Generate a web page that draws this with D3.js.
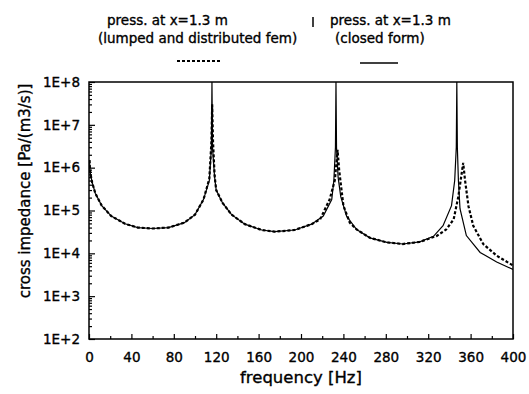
<!DOCTYPE html>
<html><head><meta charset="utf-8">
<script src="https://cdn.jsdelivr.net/npm/d3@7"></script>
<style>body{margin:0;background:#fff}svg{display:block}text{font-family:"DejaVu Sans",sans-serif;fill:#000;stroke:#000;stroke-width:0.35px}</style>
</head><body><svg id="c" width="529" height="394"></svg>
<script>
// closed form (solid)
const freqClosed = [0.5,1,3,6,12,21,34,46,60,75,90,100,108,113.5,115.5,116,116.5,118.5,120,126,134.5,147,163,175,194,210,221,229,231,232.5,233,233.5,235,237.5,243,252.5,265,281,296,312,325,334,342,345,346.5,347,347.5,348.5,350,356,369,384.6,400];
const zClosed = [1.5e6,8e5,4.5e5,2.5e5,1.3e5,7.4e4,4.9e4,4.0e4,3.8e4,4.0e4,5.2e4,8e4,1.8e5,5e5,3e6,1e8,3e6,6e5,3e5,1.5e5,8e4,4.8e4,3.5e4,3.2e4,3.5e4,4.8e4,7.4e4,1.8e5,5e5,3e6,1e8,3e6,6e5,2.1e5,7.4e4,3.6e4,2.3e4,1.8e4,1.65e4,1.85e4,2.5e4,4.4e4,1.3e5,5e5,3e6,1e8,3e6,5e5,1.1e5,2.6e4,1.05e4,6.3e3,4.2e3];
// lumped and distributed fem (dashed)
const freqFem = [0.5,1,3,6,12,21,34,46,60,75,90,100,108,113.5,115.5,116.2,117,118.5,120,126,134.5,147,163,175,194,210,218,227,232,234.5,236,240,246,252.5,265,281,296,312,328,337,344,348.4,351.6,353,354.7,358,362.5,372,384.6,400];
const zFem = [1.5e6,8e5,4.5e5,2.5e5,1.3e5,7.4e4,4.9e4,4.0e4,3.8e4,4.0e4,5.2e4,8e4,1.8e5,5.5e5,4e6,3e7,4e6,6.5e5,3e5,1.5e5,8e4,4.8e4,3.5e4,3.2e4,3.5e4,4.8e4,6.2e4,1.8e5,5.2e5,2.6e6,8.8e5,1.3e5,5.2e4,3.6e4,2.3e4,1.8e4,1.65e4,1.85e4,2.55e4,3.6e4,6.2e4,2.1e5,7.4e5,1.3e6,5.2e5,1.26e5,4.4e4,1.64e4,8.8e3,5.2e3];
const xTicks = [0,40,80,120,160,200,240,280,320,360,400];
const yTicks = [1e2,1e3,1e4,1e5,1e6,1e7,1e8];
const yTickLabels = ["1E+2","1E+3","1E+4","1E+5","1E+6","1E+7","1E+8"];
const legendFem = ["press. at x=1.3 m","(lumped and distributed fem)"];
const legendClosed = ["press. at x=1.3 m","(closed form)"];
const xTitle = "frequency [Hz]";
const yTitle = "cross impedance [Pa/(m3/s)]";

const svg = d3.select("#c");
const L=89,R=513,T=82,B=339;
const x = d3.scaleLinear().domain([0,400]).range([L,R]);
const y = d3.scaleLog().domain([1e2,1e8]).range([B,T]);

svg.append("clipPath").attr("id","clip").append("rect").attr("x",L).attr("y",T).attr("width",R-L).attr("height",B-T);

// minor ticks
const yMinor=[];
for(let e=2;e<8;e++)for(let m=2;m<=9;m++)yMinor.push(m*Math.pow(10,e));
const xMinor = d3.range(20,400,40);

const gx = svg.append("g").attr("transform",`translate(0,${B})`)
  .call(d3.axisBottom(x).tickValues(xTicks).tickSize(-5).tickSizeOuter(0).tickPadding(13).tickFormat(d3.format("d")));
svg.append("g").attr("transform",`translate(0,${B})`)
  .call(d3.axisBottom(x).tickValues(xMinor).tickSize(-3).tickSizeOuter(0).tickFormat(""));
const gy = svg.append("g").attr("transform",`translate(${L},0)`)
  .call(d3.axisLeft(y).tickValues(yTicks).tickSize(-6).tickSizeOuter(0).tickPadding(9).tickFormat((d,i)=>yTickLabels[i]));
svg.append("g").attr("transform",`translate(${L},0)`)
  .call(d3.axisLeft(y).tickValues(yMinor).tickSize(-3).tickSizeOuter(0).tickFormat(""));
svg.selectAll(".domain").remove();
svg.selectAll(".tick line").attr("stroke","#000").attr("stroke-width",1.2);
gx.selectAll("text").style("font-size","13.5px");
gy.selectAll("text").style("font-size","13.5px");

const line = d3.line().x(d=>x(d[0])).y(d=>y(d[1]));
const plot = svg.append("g").attr("clip-path","url(#clip)");
plot.append("path").datum(d3.zip(freqClosed,zClosed)).attr("d",line)
  .attr("fill","none").attr("stroke","#000").attr("stroke-width",1.2);
plot.append("path").datum(d3.zip(freqFem,zFem)).attr("d",line)
  .attr("fill","none").attr("stroke","#000").attr("stroke-width",2.2).attr("stroke-dasharray","3,2");

svg.append("rect").attr("x",L).attr("y",T).attr("width",R-L).attr("height",B-T)
  .attr("fill","none").attr("stroke","#000").attr("stroke-width",1.5);

svg.append("text").attr("x",(L+R)/2).attr("y",383).attr("text-anchor","middle")
  .style("font-size","16.5px").text(xTitle);
svg.append("text").attr("transform","translate(30,191) rotate(-90)").attr("text-anchor","middle")
  .style("font-size","15px").text(yTitle);

// legend
svg.append("text").attr("x",107).attr("y",25).style("font-size","13.5px").text(legendFem[0]);
svg.append("text").attr("x",98).attr("y",43).style("font-size","13.5px").text(legendFem[1]);
svg.append("line").attr("x1",177).attr("x2",220).attr("y1",61).attr("y2",61)
  .attr("stroke","#000").attr("stroke-width",2).attr("stroke-dasharray","3,2");
svg.append("line").attr("x1",313).attr("x2",313).attr("y1",17).attr("y2",27).attr("stroke","#000").attr("stroke-width",1.5);
svg.append("text").attr("x",330).attr("y",25).style("font-size","13.5px").text(legendClosed[0]);
svg.append("text").attr("x",335).attr("y",43).style("font-size","13.5px").text(legendClosed[1]);
svg.append("line").attr("x1",360).attr("x2",398).attr("y1",63).attr("y2",63)
  .attr("stroke","#000").attr("stroke-width",1.5);
</script></body></html>
